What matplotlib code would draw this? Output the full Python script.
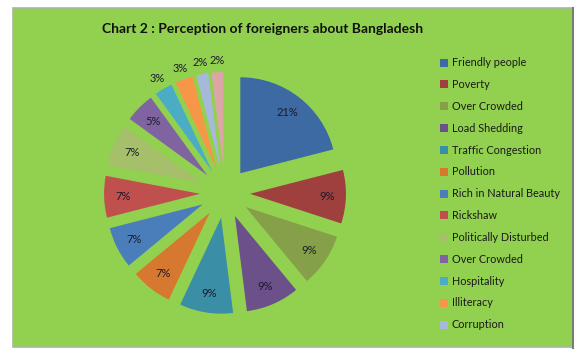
import numpy as np
import matplotlib
matplotlib.use("Agg")
from matplotlib import pyplot as plt
from matplotlib.patches import Rectangle

plt.rcParams['font.family'] = ['Lato', 'DejaVu Sans']

# data
labels = ["Friendly people", "Poverty", "Over Crowded", "Load Shedding",
          "Traffic Congestion", "Pollution", "Rich in Natural Beauty",
          "Rickshaw", "Politically Disturbed", "Over Crowded", "Hospitality",
          "Illiteracy", "Corruption", "Others"]
values = [21, 9, 9, 9, 9, 7, 7, 7, 7, 5, 3, 3, 2, 2]
colors = ["#3D6AA2", "#A0403E", "#86A04A", "#6B5089", "#3A8EA6", "#D6782F",
          "#4A7EBB", "#C0504D", "#A5BF6B", "#8064A2", "#4BACC6", "#F79646",
          "#A7B9DA", "#DBA6A5"]
n_legend = 13  # last entry is cut off in the original legend

W, H = 581, 356
fig = plt.figure(figsize=(W / 100, H / 100), dpi=100)
fig.patch.set_facecolor("white")

# green chart area
fig.patches.append(Rectangle((13 / W, 1 - 347 / H), 559 / W, 339 / H,
                             transform=fig.transFigure, facecolor="#92D050",
                             edgecolor="#A8B89A", linewidth=1.2, zorder=-5))
fig.add_artist(plt.Line2D([573 / W, 573 / W], [1 - 348 / H, 1 - 8 / H],
                          transform=fig.transFigure, color="#7A7F76", lw=1.5,
                          zorder=-4))

# pie axes: centre ~ (225, 193) px, radius ~ 96 px
r = 96
lim = 1.4
cx, cy = 225, 193
side = 2 * lim * r
ax = fig.add_axes([(cx - side / 2) / W, (H - cy - side / 2) / H, side / W, side / H])
wedges, _ = ax.pie(values, colors=colors, startangle=90, counterclock=False,
                   explode=[0.26] * len(values), wedgeprops=dict(linewidth=0))
ax.set_xlim(-lim, lim)
ax.set_ylim(-lim, lim)
ax.set_aspect("equal")
ax.axis("off")

for w, v in zip(wedges, values):
    ang = np.deg2rad((w.theta1 + w.theta2) / 2)
    d = 1.12 if v <= 3 else 0.8
    x = w.center[0] + d * np.cos(ang)
    y = w.center[1] + d * np.sin(ang)
    ax.text(x, y, "%d%%" % v, ha="center", va="center", fontsize=8,
            color="#1A1A2A")

fig.text(263 / W, 1 - 29 / H, "Chart 2 : Perception of foreigners about Bangladesh",
         ha="center", va="center", fontsize=10, fontweight="bold", color="#111111")

leg = fig.legend(wedges[:n_legend], labels[:n_legend], loc="upper left",
                 bbox_to_anchor=(436 / W, 1 - 53 / H), frameon=False,
                 fontsize=7.8, handlelength=0.75, handleheight=0.75,
                 handletextpad=0.3, labelspacing=1.0, borderaxespad=0)
for t in leg.get_texts():
    t.set_color("#1A1A1A")

fig.savefig("out.png", dpi=100, facecolor=fig.get_facecolor())
